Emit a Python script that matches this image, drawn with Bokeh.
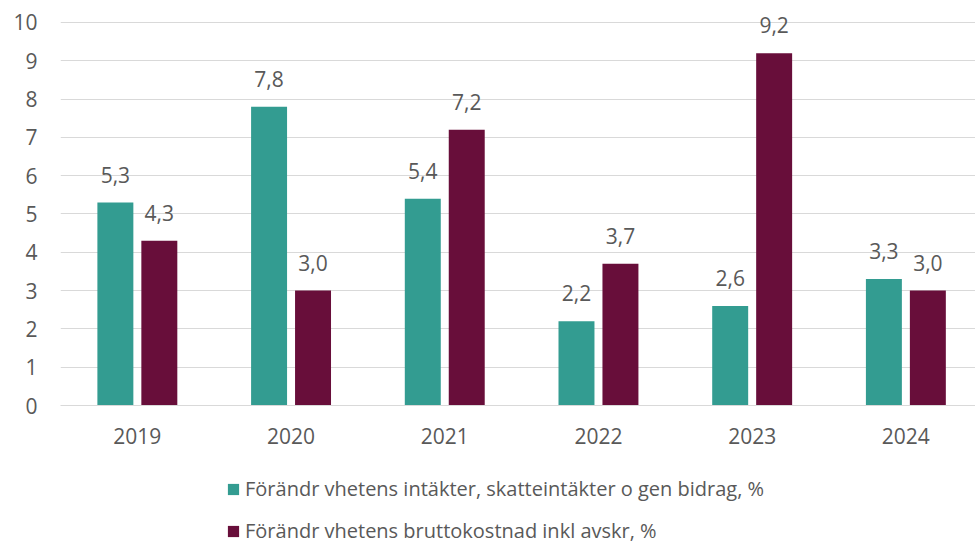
from bokeh.plotting import figure
from bokeh.models import Range1d, FixedTicker, Legend, LegendItem, ColumnDataSource
from bokeh.layouts import column
from bokeh.core.properties import value
from bokeh.embed import file_html
from bokeh.resources import INLINE

years = ["2019", "2020", "2021", "2022", "2023", "2024"]
intakter = [5.3, 7.8, 5.4, 2.2, 2.6, 3.3]
kostnad = [4.3, 3.0, 7.2, 3.7, 9.2, 3.0]
series_names = ["Förändr vhetens intäkter, skatteintäkter o gen bidrag, %",
                "Förändr vhetens bruttokostnad inkl avskr, %"]
colors = ["#339C91", "#680E3A"]
y_ticks = list(range(0, 11))

FONT = "Open Sans"
TXT = "#595959"
FS = "21px"

idx = list(range(len(years)))
off = 0.143
bw = 0.234

src1 = ColumnDataSource(dict(x=[i - off for i in idx], top=intakter,
                             lab=[f"{v:.1f}".replace(".", ",") for v in intakter]))
src2 = ColumnDataSource(dict(x=[i + off for i in idx], top=kostnad,
                             lab=[f"{v:.1f}".replace(".", ",") for v in kostnad]))

H1 = 470
p = figure(width=975, height=H1, output_backend="svg", toolbar_location=None,
           x_range=Range1d(-0.5, 5.453), y_range=Range1d(0, 10.574),
           min_border_left=60, min_border_right=0, min_border_top=0,
           min_border_bottom=H1 - 405)
p.outline_line_color = None
p.background_fill_color = "white"

r1 = p.vbar(x="x", top="top", width=bw, bottom=0, source=src1,
            fill_color=colors[0], line_color=None)
r2 = p.vbar(x="x", top="top", width=bw, bottom=0, source=src2,
            fill_color=colors[1], line_color=None)

for s in (src1, src2):
    p.text(x="x", y="top", text="lab", source=s, text_align="center",
           text_baseline="alphabetic", y_offset=-28,
           text_font=value(FONT), text_font_size=FS, text_color=TXT)

p.xgrid.grid_line_color = None
p.ygrid.grid_line_color = "#D9D9D9"
p.ygrid.grid_line_width = 1
p.ygrid.ticker = FixedTicker(ticks=y_ticks)

p.yaxis.ticker = FixedTicker(ticks=y_ticks)
p.yaxis.axis_line_color = None
p.yaxis.major_tick_line_color = None
p.yaxis.minor_tick_line_color = None
p.yaxis.major_tick_out = 0
p.yaxis.major_tick_in = 0
p.yaxis.major_label_standoff = 23
p.yaxis.major_label_text_font = FONT
p.yaxis.major_label_text_font_size = FS
p.yaxis.major_label_text_color = TXT

p.xaxis.ticker = FixedTicker(ticks=idx)
p.xaxis.major_label_overrides = {i: y for i, y in zip(idx, years)}
p.xaxis.axis_line_color = "#D9D9D9"
p.xaxis.major_tick_line_color = None
p.xaxis.minor_tick_line_color = None
p.xaxis.major_tick_out = 0
p.xaxis.major_tick_in = 0
p.xaxis.major_label_standoff = 22
p.xaxis.major_label_text_font = FONT
p.xaxis.major_label_text_font_size = FS
p.xaxis.major_label_text_color = TXT

# legend strip below the chart (its swatches come from renderers kept out of view)
H2 = 544 - H1
q = figure(width=975, height=H2, output_backend="svg", toolbar_location=None,
           x_range=Range1d(100, 101), y_range=Range1d(100, 101),
           x_axis_location=None, y_axis_location=None,
           min_border=0, min_border_left=0, min_border_right=0,
           min_border_top=0, min_border_bottom=0)
q.grid.visible = False
q.outline_line_color = None
d1 = q.vbar(x="x", top="top", width=bw, source=src1,
            fill_color=colors[0], line_color=None)
d2 = q.vbar(x="x", top="top", width=bw, source=src2,
            fill_color=colors[1], line_color=None)
legend = Legend(items=[LegendItem(label=series_names[0], renderers=[d1]),
                       LegendItem(label=series_names[1], renderers=[d2])],
                location=(166, 0), orientation="vertical",
                glyph_width=14, glyph_height=14, label_height=16,
                label_standoff=5, spacing=15, padding=0, margin=0,
                border_line_color=None, background_fill_alpha=0,
                label_text_font=FONT, label_text_font_size="20px",
                label_text_color=TXT)
q.add_layout(legend, "center")

layout = column(p, q, spacing=0)
open("out.html", "w").write(file_html(layout, INLINE))
